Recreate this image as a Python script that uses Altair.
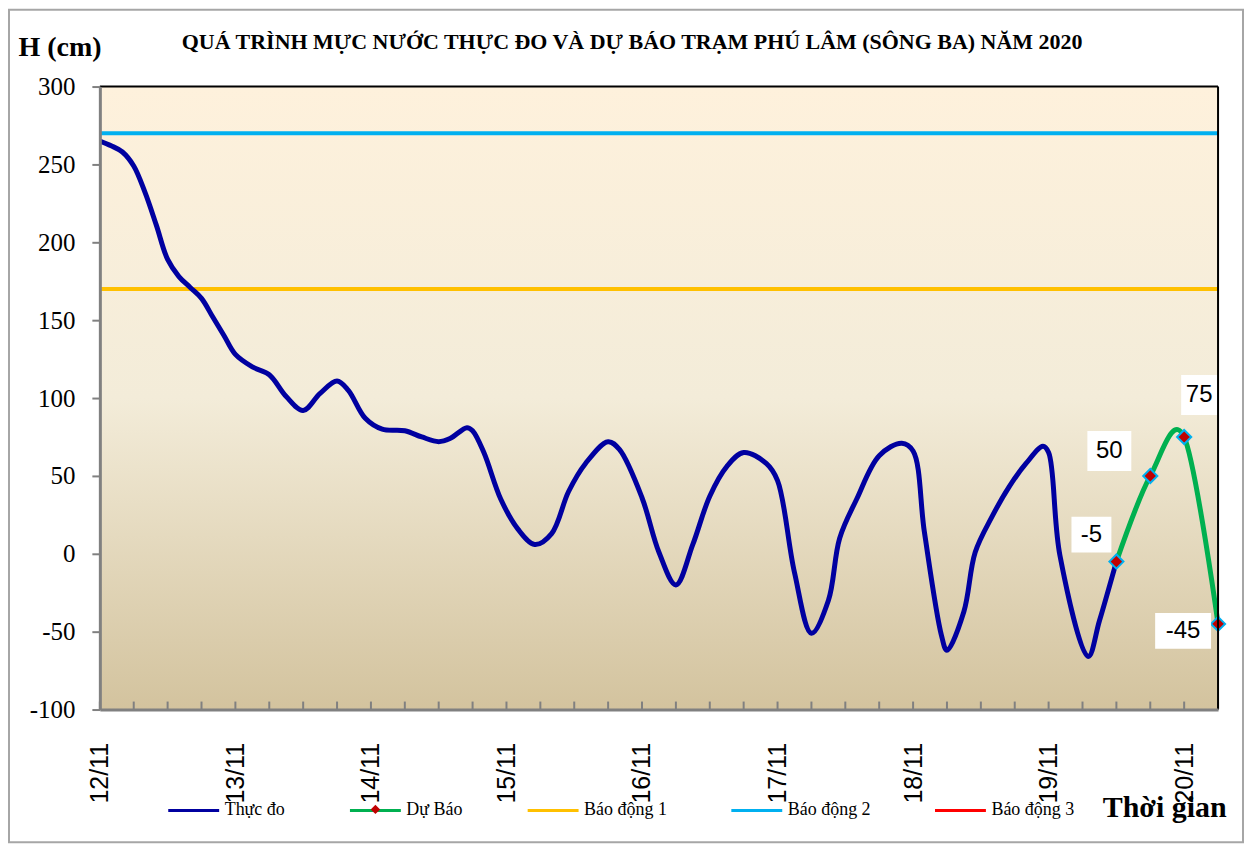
import json
import altair as alt
import pandas as pd

TITLE = "QUÁ TRÌNH MỰC NƯỚC THỰC ĐO VÀ DỰ BÁO TRẠM PHÚ LÂM (SÔNG BA) NĂM 2020"
Y_TITLE = "H (cm)"
X_TITLE = "Thời gian"

DAY_LABELS = ["12/11", "13/11", "14/11", "15/11", "16/11", "17/11", "18/11", "19/11", "20/11"]
Y_TICKS = [-100, -50, 0, 50, 100, 150, 200, 250, 300]

# hours counted from 12/11 00:00
OBS_HOURS = [0, 2, 4, 6, 8, 10, 12, 14, 16, 18, 20, 22, 24, 27, 30, 33, 36, 39, 42, 44,
             47, 50, 54, 57, 60, 62, 65, 66, 68, 71, 74, 77, 80, 83, 86, 90, 92, 96, 99, 102,
             105, 108, 111, 114, 118, 120, 123, 126, 129, 131, 134, 138, 142, 144, 146, 149, 150, 153, 155, 158,
             161, 164, 167, 168, 170, 175, 177, 180]
OBS_VALUES = [265, 262, 258, 249, 232, 211, 189, 178, 171, 164, 152, 140, 128, 120, 115, 101, 92, 103, 111, 105,
              87, 80, 79, 75, 72, 74, 81, 79, 65, 35, 16, 6, 13, 40, 58, 72, 67, 36, 1, -20,
              6, 37, 56, 65, 58, 47, -12, -51, -30, 10, 35, 63, 71, 66, 14, -52, -62, -37, 1, 24,
              43, 58, 69, 65, -1, -66, -43, -5]

FC_HOURS = [180, 186, 192, 198]
FC_VALUES = [-5, 50, 75, -45]

ALARM_NAMES = ["Báo động 1", "Báo động 2", "Báo động 3"]
ALARM_LEVELS = [170, 270, 370]

SERIES = ["Thực đo", "Dự Báo"] + ALARM_NAMES
COLORS = ["#0000A0", "#00B050", "#FFC000", "#00B0F0", "#FF0000"]

X_MAX = 198
MINOR_TICKS = list(range(0, X_MAX + 1, 6))

obs = pd.DataFrame({"hour": OBS_HOURS, "value": OBS_VALUES, "series": "Thực đo"})
fc = pd.DataFrame({"hour": FC_HOURS, "value": FC_VALUES, "series": "Dự Báo", "marker": "Dự Báo",
                   "label": [str(v) for v in FC_VALUES]})
alarms = pd.DataFrame({"series": ALARM_NAMES, "value": ALARM_LEVELS})
ticks = pd.DataFrame({"hour": MINOR_TICKS})
one = pd.DataFrame({"a": [0]})

SERIF = "Liberation Serif"
SANS = "Liberation Sans"
GRAY = "#808080"

xs = alt.Scale(domain=[0, X_MAX], nice=False, zero=False)
ys = alt.Scale(domain=[Y_TICKS[0], Y_TICKS[-1]], nice=False, zero=False)
cs = alt.Scale(domain=SERIES, range=COLORS)

xaxis = alt.Axis(
    values=[24 * i for i in range(len(DAY_LABELS))],
    labelExpr=json.dumps(DAY_LABELS) + "[round(datum.value / 24)]",
    labelAngle=-90, labelFont=SANS, labelFontSize=25, labelColor="black",
    labelPadding=33, labelFlush=False, labelOverlap=False, ticks=False, tickSize=0,
    grid=False, domainColor=GRAY, domainWidth=3, zindex=1,
    title=X_TITLE, titleFont=SERIF, titleFontSize=30, titleFontWeight="bold", titleColor="black",
    titleAngle=0, titleAlign="left", titleBaseline="alphabetic", titleX=1004, titleY=107,
)
yaxis = alt.Axis(
    values=Y_TICKS, labelExpr="'' + datum.value",
    labelFont=SERIF, labelFontSize=25, labelColor="black", labelPadding=17,
    labelFlush=False, tickColor=GRAY, tickWidth=2, tickSize=8, domainColor=GRAY, domainWidth=3,
    grid=False, zindex=1,
    title=Y_TITLE, titleFont=SERIF, titleFontSize=28, titleFontWeight="bold", titleColor="black",
    titleAngle=0, titleAlign="left", titleBaseline="alphabetic", titleX=-82, titleY=-31,
)


def X(field):
    return alt.X(field, type="quantitative", scale=xs, axis=xaxis)


def Y(field):
    return alt.Y(field, type="quantitative", scale=ys, axis=yaxis)


color_legend = alt.Legend(
    orient="none", legendX=67, legendY=698, direction="horizontal", columns=5, title=None,
    symbolType="stroke", symbolSize=2600, symbolStrokeWidth=3, labelFont=SERIF, labelFontSize=18,
    labelColor="black", columnPadding=58, labelOffset=4, padding=0, labelLimit=300,
)

bg = alt.Chart(one).mark_rect(
    fill=alt.Gradient(
        gradient="linear", x1=0, x2=0, y1=0, y2=1,
        stops=[alt.GradientStop(color="#FEF1DC", offset=0),
               alt.GradientStop(color="#F3ECD9", offset=0.5),
               alt.GradientStop(color="#D3C39E", offset=1)],
    )
).encode(
    x=alt.XDatum(0, type="quantitative", scale=xs, axis=xaxis),
    x2=alt.X2Datum(X_MAX),
    y=alt.YDatum(Y_TICKS[-1], type="quantitative", scale=ys, axis=yaxis),
    y2=alt.Y2Datum(Y_TICKS[0]),
)

alarm_rules = alt.Chart(alarms).mark_rule(strokeWidth=4, clip=True).encode(
    y=Y("value"),
    color=alt.Color("series:N", scale=cs, legend=color_legend),
)

minor = alt.Chart(ticks).mark_rule(color=GRAY, strokeWidth=2, y2Offset=-8).encode(
    x=X("hour"),
    y=alt.YDatum(Y_TICKS[0], type="quantitative", scale=ys, axis=yaxis),
    y2=alt.Y2Datum(Y_TICKS[0]),
)

obs_line = alt.Chart(obs).mark_line(strokeWidth=5, interpolate="catmull-rom").encode(
    x=X("hour"), y=Y("value"),
    color=alt.Color("series:N", scale=cs, legend=color_legend),
)
fc_line = alt.Chart(fc).mark_line(strokeWidth=5, interpolate="cardinal", tension=0).encode(
    x=X("hour"), y=Y("value"),
    color=alt.Color("series:N", scale=cs, legend=color_legend),
)
fc_points = alt.Chart(fc).mark_point(
    filled=True, fill="#C00000", stroke="#00B0F0", strokeWidth=2, size=200, opacity=1
).encode(
    x=X("hour"), y=Y("value"),
    shape=alt.Shape("marker:N", scale=alt.Scale(domain=["Dự Báo"], range=["diamond"]),
                    legend=alt.Legend(orient="none", legendX=270, legendY=718, title=None,
                                      labelExpr="''", symbolSize=90, symbolFillColor="#C00000",
                                      symbolStrokeColor="#00B0F0", symbolStrokeWidth=2, padding=0)),
)

# label placement (pixel offsets of each label box centre, half width, half height)
LABEL_STYLE = [(-25, -27, 20, 18), (-41, -25, 22, 20), (15, -42, 18, 20), (-35, 7, 28, 18)]
label_layers = []
for h, (dx, dy, hw, hh) in zip(FC_HOURS, LABEL_STYLE):
    src = alt.Chart(fc).transform_filter(alt.datum.hour == h)
    box = src.mark_rect(
        fill="white", xOffset=dx - hw, x2Offset=dx + hw, yOffset=dy - hh, y2Offset=dy + hh
    ).encode(x=X("hour"), x2="hour", y=Y("value"), y2="value")
    txt = src.mark_text(
        font=SANS, fontSize=24, color="black", dx=dx, dy=dy, align="center", baseline="middle"
    ).encode(x=X("hour"), y=Y("value"), text="label:N")
    label_layers += [box, txt]

top_border = alt.Chart(one).mark_rule(color="black", strokeWidth=2).encode(
    x=alt.XDatum(0, type="quantitative", scale=xs, axis=xaxis), x2=alt.X2Datum(X_MAX),
    y=alt.YDatum(Y_TICKS[-1], type="quantitative", scale=ys, axis=yaxis),
)
right_border = alt.Chart(one).mark_rule(color="black", strokeWidth=2).encode(
    x=alt.XDatum(X_MAX, type="quantitative", scale=xs, axis=xaxis),
    y=alt.YDatum(Y_TICKS[0], type="quantitative", scale=ys, axis=yaxis),
    y2=alt.Y2Datum(Y_TICKS[-1]),
)
frame = alt.Chart(one).mark_rect(filled=False, stroke="#A6A6A6", strokeWidth=2).encode(
    x=alt.value(-91), x2=alt.value(1145), y=alt.value(-77), y2=alt.value(757)
)
title = alt.Chart(one).mark_text(
    text=TITLE, font=SERIF, fontSize=22, fontWeight="bold", color="black",
    align="left", baseline="alphabetic"
).encode(x=alt.value(82), y=alt.value(-38))

chart = alt.layer(
    bg, alarm_rules, minor, obs_line, fc_line, fc_points, *label_layers, top_border, right_border,
    frame, title
).properties(
    width=1120, height=624,
    autosize=alt.AutoSizeParams(type="none"),
    padding={"left": 92, "top": 78, "right": 27, "bottom": 136},
).configure_view(stroke=None).configure(background="white")

chart.save("out.html", embed_options={"renderer": "svg", "actions": False})
